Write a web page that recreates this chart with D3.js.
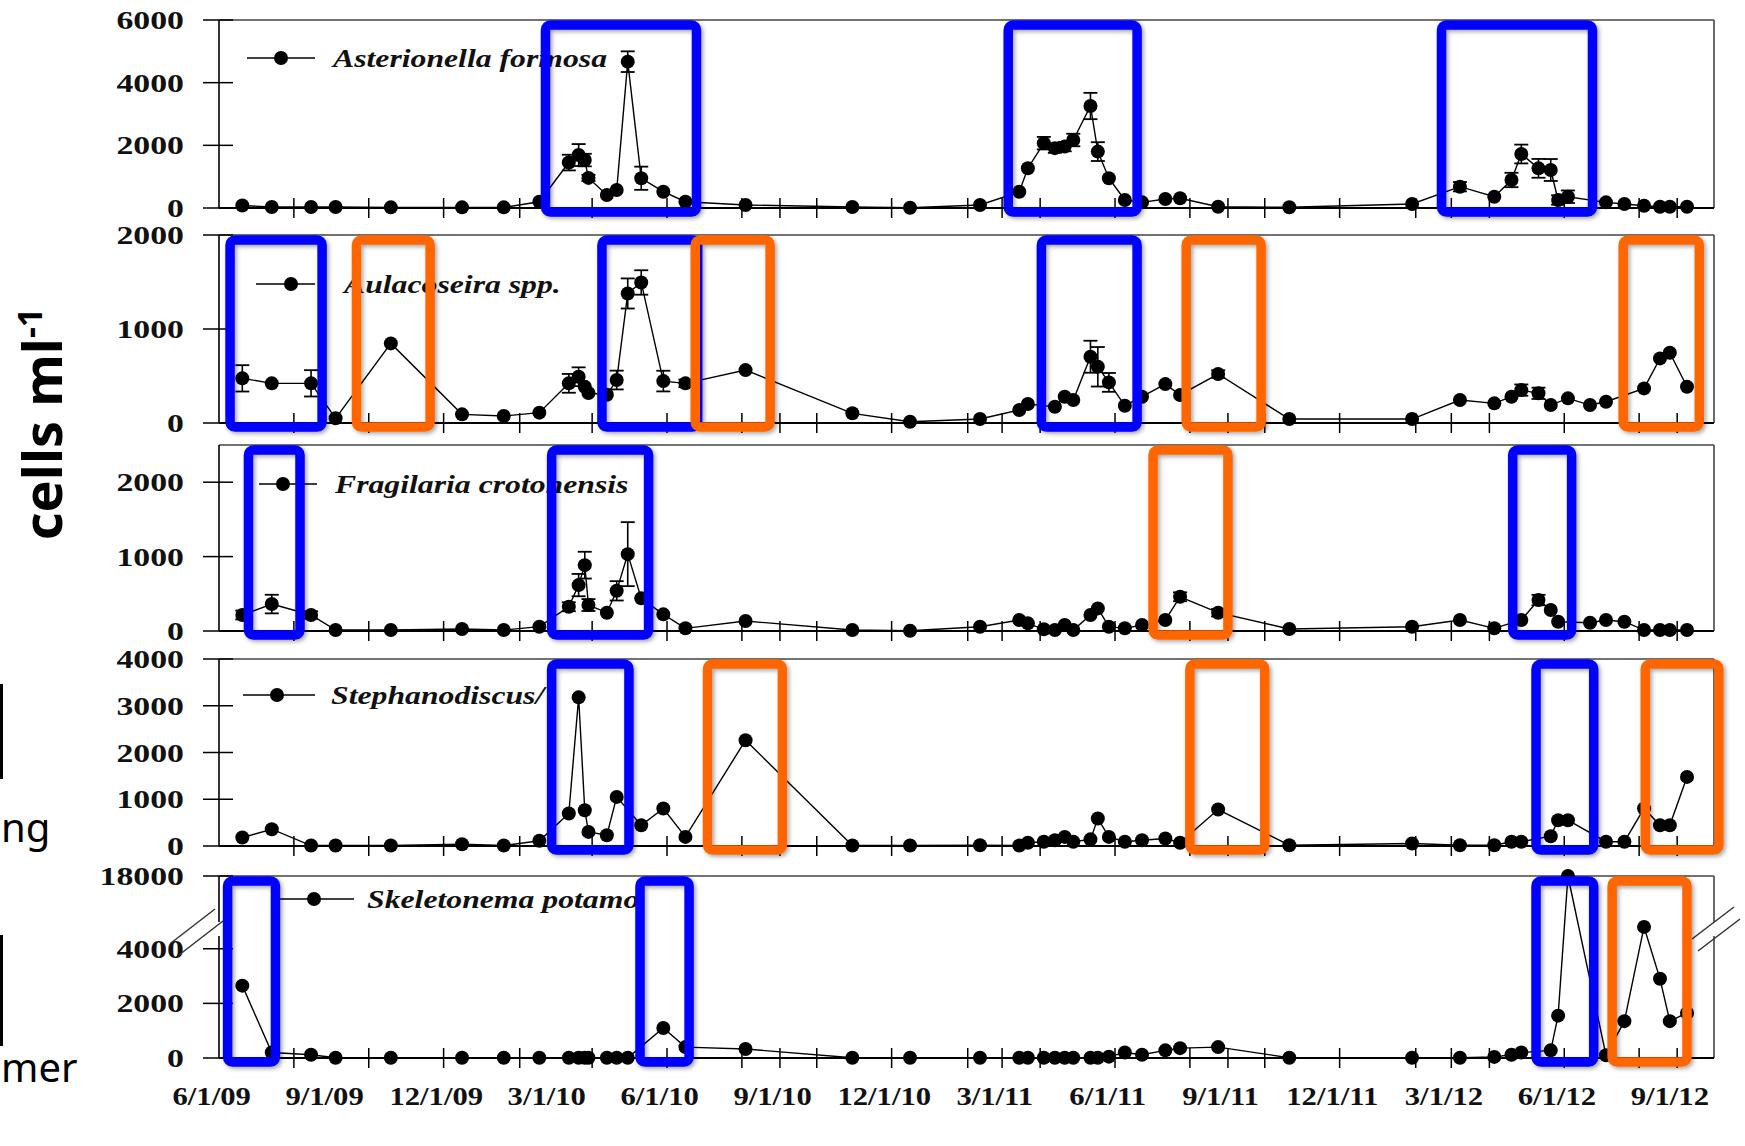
<!DOCTYPE html>
<html><head><meta charset="utf-8">
<script src="https://cdn.jsdelivr.net/npm/d3@7"></script>
<style>body{margin:0;background:#fff}svg{display:block}</style>
</head><body>
<svg id="chart" width="1745" height="1146"></svg>
<script>
// ---------------- DATA ----------------
const sampleDates = ["2009-06-26","2009-07-20","2009-08-21","2009-09-10","2009-10-25","2009-12-22","2010-01-25","2010-02-23",
"2010-03-19","2010-03-27","2010-04-01","2010-04-04","2010-04-19","2010-04-27","2010-05-06","2010-05-17","2010-06-04","2010-06-22",
"2010-08-10","2010-11-05","2010-12-22","2011-02-17","2011-03-21","2011-03-28","2011-04-10","2011-04-19","2011-04-27","2011-05-04",
"2011-05-18","2011-05-24","2011-06-02","2011-06-15","2011-06-29","2011-07-18","2011-07-30","2011-08-30","2011-10-27","2012-02-04",
"2012-03-14","2012-04-11","2012-04-25","2012-05-03","2012-05-17","2012-05-27","2012-06-02","2012-06-10","2012-06-28","2012-07-11",
"2012-07-26","2012-08-11","2012-08-24","2012-09-01","2012-09-15"];

const asterionella = [80,30,30,30,20,20,20,200,1450,1690,1530,960,415,575,4670,950,520,200,96,30,10,96,520,1270,2070,1910,1960,2170,3255,1800,950,255,180,287,309,42,22,128,680,360,894,1723,1266,1213,255,360,null,180,128,74,42,42,42];
const asterionellaErr = [0,0,0,0,0,0,0,0,250,350,200,100,0,0,330,370,0,0,0,0,0,0,0,0,200,150,150,200,420,300,0,0,0,0,0,0,0,0,150,0,230,300,300,350,150,200,0,0,0,0,0,0,0];

const aulacoseira = [475,422,422,50,847,92,74,110,422,492,386,319,300,457,1378,1495,446,422,563,103,14,42,138,202,null,173,280,244,705,598,432,184,280,414,298,521,42,42,244,209,280,350,316,191,null,262,191,226,null,368,687,747,386];
const aulacoseiraErr = [140,0,140,0,0,0,0,0,100,100,0,0,0,100,160,130,110,40,0,0,0,0,0,0,0,0,0,0,170,210,100,0,0,0,0,40,0,0,0,0,0,60,60,0,0,0,0,0,0,0,0,0,0];

const fragilaria = [215,362,215,13,13,27,13,58,326,617,885,349,246,540,1033,439,224,36,134,13,4,58,148,103,23,13,80,13,215,304,58,36,80,148,460,246,27,58,148,36,null,148,416,282,125,null,111,148,125,13,13,13,13];
const fragilariaErr = [60,125,50,0,0,0,0,0,60,150,180,80,0,130,430,0,0,0,0,0,0,0,0,0,0,0,0,0,0,0,0,0,0,0,60,50,0,0,0,0,0,0,70,0,0,0,0,0,0,0,0,0,0];

const stephanodiscus = [182,359,10,10,10,38,10,113,695,3180,766,302,231,1050,null,445,802,195,2263,10,10,17,10,70,92,124,195,92,142,588,195,92,124,160,70,780,17,53,17,17,92,92,null,210,552,552,null,92,92,802,445,445,1478];

const skeletonema = [2650,200,120,10,10,10,10,10,10,10,10,10,10,10,10,null,1100,400,330,10,10,10,10,10,10,10,10,10,10,10,50,200,120,280,360,400,10,10,10,40,120,200,null,280,1550,18000,null,100,1350,4800,2900,1350,1650];

const speciesNames = ["Asterionella formosa","Aulacoseira spp.","Fragilaria crotonensis","Stephanodiscus/","Skeletonema potamo"];
const yMax = [6000,2000,2500,4000,18000];
const yTicks = [[0,2000,4000,6000],[0,1000,2000],[0,1000,2000],[0,1000,2000,3000,4000],[0,2000,4000,18000]];
const xLabelDates = ["2009-06-01","2009-09-01","2009-12-01","2010-03-01","2010-06-01","2010-09-01","2010-12-01","2011-03-01","2011-06-01","2011-09-01","2011-12-01","2012-03-01","2012-06-01","2012-09-01"];
const tickMonths = [2,4,6,8,10,12,14,15,16,18,20,21,22,24,26,27,28,30,32,33,34,36,38,39];

// highlighted bloom windows: [panel, start, end, season]
const bloomBoxes = [
 [0,"2010-02-28","2010-07-01","spring"],[0,"2011-03-12","2011-06-25","spring"],[0,"2012-02-28","2012-06-30","spring"],
 [1,"2009-06-16","2009-08-30","spring"],[1,"2009-09-27","2009-11-26","summer"],[1,"2010-04-15","2010-07-02","spring"],
 [1,"2010-06-30","2010-08-30","summer"],[1,"2011-04-08","2011-06-25","spring"],[1,"2011-08-04","2011-10-04","summer"],
 [1,"2012-07-25","2012-09-25","summer"],
 [2,"2009-07-01","2009-08-12","spring"],[2,"2010-03-05","2010-05-23","spring"],[2,"2011-07-08","2011-09-07","summer"],
 [2,"2012-04-26","2012-06-13","spring"],
 [3,"2010-03-05","2010-05-07","spring"],[3,"2010-07-10","2010-09-09","summer"],[3,"2011-08-07","2011-10-07","summer"],
 [3,"2012-05-15","2012-07-01","spring"],[3,"2012-08-12","2012-10-11","summer"],
 [4,"2009-06-14","2009-07-23","spring"],[4,"2010-05-16","2010-06-25","spring"],[4,"2012-05-15","2012-07-01","spring"],
 [4,"2012-07-16","2012-09-15","summer"]
];

// ---------------- LAYOUT ----------------
const seasonColor = {spring:"#0000ff", summer:"#ff6600"};
const parse = d3.timeParse("%Y-%m-%d");
const fmt = d3.timeFormat("%-m/%-d/%y");
const X0 = 219, X1 = 1714;
const panelTop = [20,235,445,659,876];
const panelZero = [208,423,631,846,1058];
const legendPos = [
 {l1:247,l2:315,dot:281,y:58,tx:333},
 {l1:256,l2:315,dot:291,y:284,tx:344},
 {l1:259,l2:317,dot:283,y:484,tx:335},
 {l1:243,l2:315,dot:277,y:695,tx:331},
 {l1:278,l2:354,dot:314,y:899,tx:367}
];
const serif = "'Liberation Serif','Times New Roman',serif";

const svg = d3.select("#chart");
const defs = svg.append("defs");
const f = defs.append("filter").attr("id","shadow").attr("x","-20%").attr("y","-20%").attr("width","140%").attr("height","140%");
f.append("feDropShadow").attr("dx",2).attr("dy",2).attr("stdDeviation",2).attr("flood-color","#000").attr("flood-opacity",0.35);

const x = d3.scaleTime().domain([parse("2009-06-07"), parse("2012-10-07")]).range([X0, X1]);
const dates = sampleDates.map(parse);
const baseTick = parse("2009-06-07");
const tickDates = tickMonths.map(m => d3.timeMonth.offset(baseTick, m));

const series = [
 {vals: asterionella, err: asterionellaErr},
 {vals: aulacoseira, err: aulacoseiraErr},
 {vals: fragilaria, err: fragilariaErr},
 {vals: stephanodiscus, err: null},
 {vals: skeletonema, err: null}
];

for (let i = 0; i < 5; i++) {
  let y;
  if (i === 4) {
    y = d3.scaleLinear().domain([0, 5200, yMax[i]]).range([panelZero[i], 916, panelTop[i]]);
  } else {
    y = d3.scaleLinear().domain([0, yMax[i]]).range([panelZero[i], panelTop[i]]);
  }
  const g = svg.append("g");
  g.append("line").attr("x1",X0).attr("x2",X1).attr("y1",panelTop[i]).attr("y2",panelTop[i]).attr("stroke","#444").attr("stroke-width",1.6);
  g.append("line").attr("x1",X1).attr("x2",X1).attr("y1",panelTop[i]).attr("y2",panelZero[i]).attr("stroke","#444").attr("stroke-width",1.6);
  g.append("line").attr("x1",X0).attr("x2",X0).attr("y1",panelTop[i]).attr("y2",panelZero[i]).attr("stroke","#000").attr("stroke-width",1.6);
  g.append("line").attr("x1",X0).attr("x2",X1).attr("y1",panelZero[i]).attr("y2",panelZero[i]).attr("stroke","#000").attr("stroke-width",1.8);
  yTicks[i].forEach(t => {
    g.append("line").attr("x1",X0-16).attr("x2",X0+14).attr("y1",y(t)).attr("y2",y(t)).attr("stroke","#000").attr("stroke-width",1.5);
    g.append("text").attr("transform",`translate(${X0-35},${y(t)+9}) scale(1.3,1)`)
      .attr("text-anchor","end").attr("font-family",serif).attr("font-size",26).attr("font-weight","bold")
      .attr("fill","#111").text(t);
  });
  tickDates.forEach(d => {
    g.append("line").attr("x1",x(d)).attr("x2",x(d)).attr("y1",panelZero[i]-10).attr("y2",panelZero[i]+10).attr("stroke","#000").attr("stroke-width",1.5);
  });
  const s = series[i];
  const pts = dates.map((d,k) => ({d, v:s.vals[k], e: s.err ? s.err[k] : 0})).filter(p => p.v !== null);
  g.append("path").datum(pts).attr("fill","none").attr("stroke","#000").attr("stroke-width",1.4)
    .attr("d", d3.line().x(p => x(p.d)).y(p => y(p.v)));
  pts.filter(p => p.e > 0).forEach(p => {
    const lo = y(Math.max(0, p.v - p.e)), hi = y(p.v + p.e), cx = x(p.d);
    g.append("line").attr("x1",cx).attr("x2",cx).attr("y1",lo).attr("y2",hi).attr("stroke","#000").attr("stroke-width",1.6);
    [lo,hi].forEach(yy => g.append("line").attr("x1",cx-7).attr("x2",cx+7).attr("y1",yy).attr("y2",yy).attr("stroke","#000").attr("stroke-width",1.8));
  });
  g.selectAll("circle.pt").data(pts).enter().append("circle").attr("class","pt")
    .attr("cx",p => x(p.d)).attr("cy",p => y(p.v)).attr("r",7).attr("fill","#000");
  const L = legendPos[i];
  g.append("line").attr("x1",L.l1).attr("x2",L.l2).attr("y1",L.y).attr("y2",L.y).attr("stroke","#000").attr("stroke-width",1.5);
  g.append("circle").attr("cx",L.dot).attr("cy",L.y).attr("r",7).attr("fill","#000");
  g.append("text").attr("transform",`translate(${L.tx},${L.y+9}) scale(1.22,1)`)
    .attr("font-family",serif).attr("font-size",26).attr("font-style","italic").attr("font-weight","bold")
    .attr("fill","#111").text(speciesNames[i]);
}

// axis break marks in bottom panel
(function(){
  const yb = 929;
  const g = svg.append("g").attr("stroke","#333").attr("stroke-width",1.5);
  g.append("rect").attr("x",X0-3).attr("y",yb-7).attr("width",6).attr("height",14).attr("fill","#fff").attr("stroke","none");
  g.append("rect").attr("x",X1-3).attr("y",yb-7).attr("width",6).attr("height",14).attr("fill","#fff").attr("stroke","none");
  g.append("line").attr("x1",X0-48).attr("y1",yb+14).attr("x2",X0-4).attr("y2",yb-20);
  g.append("line").attr("x1",X0-40).attr("y1",yb+26).attr("x2",X0+4).attr("y2",yb-8);
  g.append("line").attr("x1",X1-22).attr("y1",yb+10).attr("x2",X1+20).attr("y2",yb-22);
  g.append("line").attr("x1",X1-16).attr("y1",yb+22).attr("x2",X1+26).attr("y2",yb-10);
})();

// x labels
xLabelDates.map(parse).forEach(d => {
  svg.append("text").attr("transform",`translate(${x(d)},${1105}) scale(1.18,1)`)
    .attr("text-anchor","middle").attr("font-family",serif).attr("font-size",26).attr("font-weight","bold")
    .attr("fill","#111").text(fmt(d));
});

// highlight boxes
const bg = svg.append("g").attr("filter","url(#shadow)");
bloomBoxes.forEach(([p, a, b, season]) => {
  const xa = x(parse(a)), xb = x(parse(b));
  const top = panelTop[p] + 5, bot = panelZero[p] + 4;
  bg.append("rect").attr("x",xa).attr("y",top).attr("width",xb-xa).attr("height",bot-top)
    .attr("rx",5).attr("fill","none").attr("stroke",seasonColor[season]).attr("stroke-width",9.5);
});

// side texts
const yl = svg.append("text").attr("transform","translate(62,424) rotate(-90)").attr("text-anchor","middle")
  .attr("font-family","'Noto Sans','Open Sans',sans-serif").attr("font-weight","bold").attr("font-size",54).attr("fill","#000");
yl.append("tspan").text("cells ml");
yl.append("tspan").attr("font-size",34).attr("dy",-20).text("-1");

svg.append("text").attr("x",1).attr("y",842).attr("font-family","'Noto Sans',sans-serif").attr("font-size",40).attr("fill","#000").text("ng");
svg.append("text").attr("x",1).attr("y",1082).attr("font-family","'Noto Sans',sans-serif").attr("font-size",40).attr("fill","#000").text("mer");
svg.append("line").attr("x1",1.5).attr("x2",1.5).attr("y1",684).attr("y2",779).attr("stroke","#000").attr("stroke-width",3);
svg.append("line").attr("x1",1.5).attr("x2",1.5).attr("y1",935).attr("y2",1046).attr("stroke","#000").attr("stroke-width",3);
</script>
</body></html>
